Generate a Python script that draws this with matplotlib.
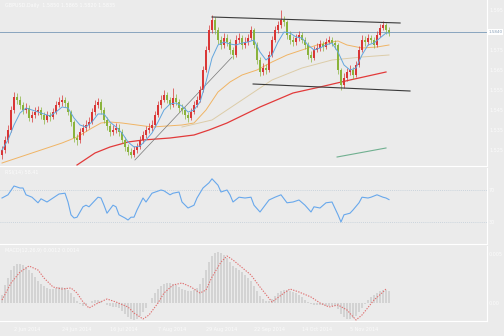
import matplotlib
matplotlib.use("Agg")
import matplotlib.pyplot as plt

# daily candles, open = previous close
first_open = 1.5225
closes = [1.5250, 1.5300, 1.5350, 1.5450, 1.5515, 1.5500, 1.5475, 1.5450, 1.5460, 1.5410,
          1.5425, 1.5440, 1.5450, 1.5425, 1.5400, 1.5425, 1.5415, 1.5440, 1.5475, 1.5490,
          1.5500, 1.5485, 1.5440, 1.5390, 1.5310, 1.5300, 1.5340, 1.5360, 1.5375, 1.5390,
          1.5440, 1.5475, 1.5490, 1.5450, 1.5400, 1.5370, 1.5340, 1.5350, 1.5360, 1.5340,
          1.5300, 1.5265, 1.5240, 1.5225, 1.5250, 1.5265, 1.5300, 1.5325, 1.5350, 1.5360,
          1.5375, 1.5425, 1.5475, 1.5500, 1.5525, 1.5500, 1.5475, 1.5510, 1.5490, 1.5460,
          1.5450, 1.5425, 1.5410, 1.5440, 1.5475, 1.5500, 1.5550, 1.5650, 1.5750, 1.5850,
          1.5900, 1.5850, 1.5800, 1.5775, 1.5810, 1.5790, 1.5750, 1.5725, 1.5800, 1.5810,
          1.5775, 1.5790, 1.5810, 1.5850, 1.5775, 1.5700, 1.5640, 1.5660, 1.5650, 1.5725,
          1.5800, 1.5850, 1.5875, 1.5900, 1.5890, 1.5825, 1.5800, 1.5790, 1.5810, 1.5825,
          1.5800, 1.5775, 1.5725, 1.5710, 1.5750, 1.5760, 1.5780, 1.5765, 1.5790, 1.5800,
          1.5785, 1.5775, 1.5650, 1.5575, 1.5610, 1.5640, 1.5650, 1.5625, 1.5675, 1.5750,
          1.5800, 1.5790, 1.5810, 1.5800, 1.5775, 1.5825, 1.5860, 1.5875, 1.5850, 1.5835]
highs = [1.5270, 1.5320, 1.5375, 1.5470, 1.5540, 1.5535, 1.5520, 1.5490, 1.5485, 1.5475,
         1.5445, 1.5465, 1.5470, 1.5465, 1.5440, 1.5445, 1.5440, 1.5460, 1.5495, 1.5515,
         1.5525, 1.5515, 1.5495, 1.5450, 1.5400, 1.5330, 1.5360, 1.5380, 1.5400, 1.5415,
         1.5460, 1.5500, 1.5510, 1.5505, 1.5465, 1.5415, 1.5385, 1.5375, 1.5385, 1.5380,
         1.5355, 1.5315, 1.5280, 1.5260, 1.5270, 1.5285, 1.5320, 1.5345, 1.5370, 1.5385,
         1.5400, 1.5445, 1.5495, 1.5525, 1.5550, 1.5540, 1.5515, 1.5560, 1.5530, 1.5505,
         1.5480, 1.5465, 1.5440, 1.5460, 1.5495, 1.5520, 1.5570, 1.5670, 1.5770, 1.5875,
         1.5925, 1.5915, 1.5865, 1.5820, 1.5835, 1.5830, 1.5805, 1.5765, 1.5825, 1.5835,
         1.5825, 1.5815, 1.5830, 1.5870, 1.5860, 1.5790, 1.5715, 1.5685, 1.5680, 1.5745,
         1.5820, 1.5870, 1.5895, 1.5950, 1.5920, 1.5900, 1.5845, 1.5820, 1.5830, 1.5845,
         1.5840, 1.5815, 1.5790, 1.5745, 1.5770, 1.5785, 1.5800, 1.5795, 1.5810, 1.5820,
         1.5815, 1.5800, 1.5785, 1.5660, 1.5635, 1.5660, 1.5675, 1.5665, 1.5695, 1.5770,
         1.5825, 1.5820, 1.5830, 1.5825, 1.5815, 1.5845, 1.5880, 1.5895, 1.5885, 1.5865]
lows = [1.5205, 1.5235, 1.5285, 1.5340, 1.5435, 1.5480, 1.5455, 1.5430, 1.5435, 1.5395,
        1.5390, 1.5410, 1.5425, 1.5405, 1.5380, 1.5390, 1.5395, 1.5405, 1.5430, 1.5465,
        1.5470, 1.5465, 1.5425, 1.5370, 1.5290, 1.5275, 1.5285, 1.5325, 1.5345, 1.5360,
        1.5380, 1.5425, 1.5460, 1.5430, 1.5385, 1.5350, 1.5320, 1.5325, 1.5335, 1.5320,
        1.5285, 1.5245, 1.5225, 1.5210, 1.5215, 1.5235, 1.5255, 1.5285, 1.5310, 1.5335,
        1.5345, 1.5365, 1.5415, 1.5460, 1.5490, 1.5485, 1.5455, 1.5465, 1.5475, 1.5440,
        1.5430, 1.5405, 1.5390, 1.5400, 1.5430, 1.5465, 1.5490, 1.5540, 1.5640, 1.5740,
        1.5835, 1.5830, 1.5780, 1.5755, 1.5760, 1.5770, 1.5730, 1.5705, 1.5715, 1.5785,
        1.5755, 1.5760, 1.5775, 1.5800, 1.5760, 1.5680, 1.5620, 1.5625, 1.5630, 1.5640,
        1.5715, 1.5790, 1.5835, 1.5860, 1.5870, 1.5805, 1.5780, 1.5770, 1.5775, 1.5795,
        1.5785, 1.5755, 1.5705, 1.5690, 1.5700, 1.5740, 1.5745, 1.5745, 1.5755, 1.5780,
        1.5770, 1.5755, 1.5630, 1.5550, 1.5560, 1.5595, 1.5625, 1.5605, 1.5615, 1.5665,
        1.5740, 1.5770, 1.5775, 1.5785, 1.5760, 1.5765, 1.5815, 1.5850, 1.5830, 1.5820]
opens = [first_open] + closes[:-1]

# moving averages (candle index, price)
blue_idx = [0, 2, 4, 6, 8, 10, 12, 14, 16, 18, 20, 22, 24, 26, 28, 30, 32, 34, 36, 38,
            40, 42, 44, 46, 48, 50, 52, 54, 56, 58, 60, 62, 64, 66, 68, 70, 72, 74, 76, 78,
            80, 82, 84, 86, 88, 90, 92, 94, 96, 98, 100, 102, 104, 106, 108, 110, 112, 114,
            116, 118, 120, 122, 124, 126, 128, 129]
blue_ma = [1.5250, 1.5300, 1.5375, 1.5435, 1.5460, 1.5450, 1.5440, 1.5430, 1.5420, 1.5440,
           1.5465, 1.5460, 1.5410, 1.5375, 1.5365, 1.5390, 1.5430, 1.5430, 1.5390, 1.5365,
           1.5335, 1.5290, 1.5265, 1.5270, 1.5300, 1.5335, 1.5390, 1.5450, 1.5480, 1.5485,
           1.5470, 1.5440, 1.5450, 1.5490, 1.5590, 1.5710, 1.5775, 1.5790, 1.5780, 1.5775,
           1.5785, 1.5790, 1.5800, 1.5740, 1.5700, 1.5725, 1.5790, 1.5840, 1.5835, 1.5815,
           1.5810, 1.5775, 1.5750, 1.5760, 1.5775, 1.5785, 1.5740, 1.5675, 1.5650, 1.5660,
           1.5725, 1.5775, 1.5785, 1.5810, 1.5835, 1.5835]
orange_idx = [0, 5, 10, 15, 20, 25, 30, 33, 36, 40, 45, 50, 55, 60, 64, 68, 72, 76, 80,
              85, 90, 95, 100, 105, 110, 112, 115, 120, 125, 129]
orange_ma = [1.5185, 1.5210, 1.5235, 1.5260, 1.5285, 1.5315, 1.5360, 1.5385, 1.5390, 1.5385,
             1.5375, 1.5365, 1.5370, 1.5375, 1.5385, 1.5450, 1.5540, 1.5590, 1.5625, 1.5650,
             1.5690, 1.5725, 1.5750, 1.5775, 1.5790, 1.5795, 1.5775, 1.5760, 1.5765, 1.5775]
tan_idx = [60, 70, 80, 90, 100, 110, 120, 129]
tan_ma = [1.5365, 1.5400, 1.5500, 1.5600, 1.5660, 1.5700, 1.5715, 1.5725]
red_idx = [25, 26, 31, 36, 42, 47, 56, 64, 69, 75, 86, 97, 106, 116, 128]
red_ma = [1.5175, 1.5185, 1.5235, 1.5265, 1.5290, 1.5300, 1.5310, 1.5325, 1.5350, 1.5385,
          1.5465, 1.5535, 1.5565, 1.5600, 1.5640]

# drawn objects (candle index, price)
channel_top = ([70, 132.7], [1.5915, 1.5885])
channel_bottom = ([83.7, 136], [1.5580, 1.5545])
trend_up = ([44.3, 76.7], [1.5200, 1.5715])
teal_line = ([111.7, 128], [1.5215, 1.5260])
last_price = 1.5840

# RSI(14)
rsi_idx = [0, 2, 4, 6, 7, 8, 10, 12, 13, 15, 17, 19, 21, 22, 23, 24, 25, 27, 28, 29,
           32, 33, 34, 35, 37, 38, 39, 41, 42, 43, 44, 45, 47, 48, 50, 53, 54, 56, 57, 59,
           60, 62, 64, 65, 67, 69, 70, 72, 73, 75, 76, 77, 79, 81, 83, 84, 86, 87, 89, 91,
           93, 95, 97, 99, 101, 103, 104, 106, 108, 110, 112, 113, 114, 116, 117, 119, 120,
           122, 123, 125, 127, 128, 129]
rsi = [60, 64, 75, 72.5, 72.5, 64, 61, 54, 59, 55, 60, 65, 66, 55, 39, 35, 36, 49, 51, 49,
       61, 60, 51, 41, 51, 49, 39, 35, 32.5, 36, 36, 45, 60, 55, 66, 70, 69, 64, 66, 67.5,
       55, 47.5, 51, 60, 72.5, 79, 84, 76, 67.5, 70, 64, 55, 61, 60, 61, 51, 42.5, 47.5, 57.5, 61,
       64, 54, 55, 57.5, 51, 42.5, 49, 47.5, 54, 55, 39, 30, 39, 41, 45, 54, 61,
       60, 61, 64, 61, 60, 58]

# MACD: histogram (main) per candle and dotted signal
macd_hist = [0.0008, 0.0018, 0.0025, 0.0033, 0.0037, 0.0039, 0.0039, 0.0038, 0.0036, 0.0033,
             0.0030, 0.0026, 0.0022, 0.0019, 0.0017, 0.0015, 0.0014, 0.0014, 0.0015, 0.0016,
             0.0016, 0.0015, 0.0013, 0.0010, 0.0006, 0.0002, -0.0001, -0.0003, -0.0002, 0.0000,
             0.0002, 0.0003, 0.0003, 0.0002, 0.0000, -0.0002, -0.0003, -0.0004, -0.0004, -0.0005,
             -0.0008, -0.0011, -0.0014, -0.0016, -0.0017, -0.0016, -0.0013, -0.0009, -0.0005, 0.0000,
             0.0005, 0.0010, 0.0014, 0.0017, 0.0019, 0.0020, 0.0020, 0.0019, 0.0018, 0.0016,
             0.0014, 0.0013, 0.0012, 0.0012, 0.0013, 0.0015, 0.0019, 0.0025, 0.0033, 0.0041,
             0.0047, 0.0050, 0.0051, 0.0050, 0.0048, 0.0045, 0.0041, 0.0037, 0.0035, 0.0033,
             0.0031, 0.0028, 0.0025, 0.0022, 0.0017, 0.0012, 0.0007, 0.0004, 0.0002, 0.0002,
             0.0004, 0.0007, 0.0010, 0.0012, 0.0013, 0.0013, 0.0012, 0.0011, 0.0010, 0.0008,
             0.0006, 0.0003, 0.0001, -0.0001, -0.0002, -0.0002, -0.0002, -0.0002, -0.0003, -0.0003,
             -0.0003, -0.0003, -0.0006, -0.0011, -0.0014, -0.0016, -0.0016, -0.0015, -0.0013, -0.0009,
             -0.0005, -0.0001, 0.0003, 0.0006, 0.0008, 0.0010, 0.0012, 0.0013, 0.0013, 0.0012]
signal_idx = [0, 3, 6, 9, 12, 14, 17, 20, 23, 25, 27, 29, 32, 35, 38, 42, 44, 47, 49, 52,
              54, 57, 60, 63, 66, 68, 70, 73, 75, 77, 79, 83, 86, 90, 94, 96, 99, 103, 106,
              109, 112, 115, 118, 120, 124, 127, 128]
signal = [0.0003, 0.0020, 0.0031, 0.0037, 0.0033, 0.0025, 0.0016, 0.0014, 0.0015, 0.0010,
          0.0001, -0.0005, 0.0000, 0.0004, 0.0001, -0.0004, -0.0010, -0.0016, -0.0012, 0.0000,
          0.0010, 0.0018, 0.0020, 0.0016, 0.0010, 0.0013, 0.0026, 0.0041, 0.0047, 0.0043,
          0.0038, 0.0028, 0.0016, 0.0001, 0.0010, 0.0014, 0.0011, 0.0006, 0.0000, -0.0004,
          -0.0002, -0.0007, -0.0017, -0.0012, 0.0003, 0.0011, 0.0014]

date_idx = [4, 20, 36, 52, 68, 84, 100, 116]
date_labels = ["2 Jun 2014", "24 Jun 2014", "16 Jul 2014", "7 Aug 2014",
               "29 Aug 2014", "22 Sep 2014", "14 Oct 2014", "5 Nov 2014"]

bg = "#ebebeb"
up_col = "#d93636"
down_col = "#8ab33c"
faint = "#fbfbfb"

fig = plt.figure(figsize=(5.04, 3.36), dpi=100, facecolor=bg)
w = 487 / 504
ax = fig.add_axes([0, 1 - 166 / 336, w, 166 / 336])
ax_rsi = fig.add_axes([0, 1 - 244 / 336, w, 76 / 336])
ax_macd = fig.add_axes([0, 1 - 321 / 336, w, 75 / 336])

xmin, xmax = -0.67, 161.67
for a in (ax, ax_rsi, ax_macd):
    a.set_facecolor(bg)
    a.set_xlim(xmin, xmax)
    a.yaxis.tick_right()
    a.tick_params(axis="y", length=0, labelsize=3.5, labelcolor=faint, pad=1.5)
    a.tick_params(axis="x", length=0, labelbottom=False)
    for s in a.spines.values():
        s.set_color("white")
        s.set_linewidth(0.8)
    a.spines["left"].set_visible(False)
    a.spines["top"].set_visible(False)

# main panel
ax.set_ylim(1.517, 1.600)
ax.axhline(last_price, color="#88a4be", lw=0.7, zorder=1)
idx = list(range(len(closes)))
for i in idx:
    col = up_col if closes[i] >= opens[i] else down_col
    ax.vlines(i, lows[i], highs[i], color=col, lw=0.5, zorder=3)
    lo_b = min(opens[i], closes[i])
    h = max(abs(closes[i] - opens[i]), 0.00015)
    ax.bar(i, h, bottom=lo_b, width=0.6, color=col, lw=0, zorder=3)
ax.plot(red_idx, red_ma, color="#e23a3a", lw=0.9, zorder=2)
ax.plot(orange_idx, orange_ma, color="#f0b464", lw=0.7, zorder=2)
ax.plot(tan_idx, tan_ma, color="#dccca8", lw=0.7, zorder=2)
ax.plot(blue_idx, blue_ma, color="#62a6de", lw=0.7, zorder=4)
ax.plot(*trend_up, color="#777777", lw=0.5, zorder=2)
ax.plot(*channel_top, color="#3a3a3a", lw=0.8, zorder=5)
ax.plot(*channel_bottom, color="#3a3a3a", lw=0.8, zorder=5)
ax.plot(*teal_line, color="#70b090", lw=0.8, zorder=2)
ax.set_yticks([1.525, 1.535, 1.545, 1.555, 1.565, 1.575, 1.595])
ax.text(1.003, last_price, "1.5840", transform=ax.get_yaxis_transform(), fontsize=3,
        color="#8aa0b8", va="center", ha="left",
        bbox=dict(boxstyle="square,pad=0.15", fc="white", ec="none"))
ax.text(1, 1.5985, "GBPUSD,Daily  1.5850 1.5865 1.5820 1.5835", fontsize=3.5,
        color=faint, va="top")

# RSI panel
ax_rsi.set_ylim(2.5, 97.5)
ax_rsi.axhline(70, color="#c0ccd8", lw=0.6, ls=(0, (1, 1.5)))
ax_rsi.axhline(30, color="#c0ccd8", lw=0.6, ls=(0, (1, 1.5)))
ax_rsi.plot(rsi_idx, rsi, color="#68a8ec", lw=0.8)
ax_rsi.set_yticks([30, 70])
ax_rsi.text(1, 95, "RSI(14) 58.41", fontsize=3.5, color=faint, va="top")

# MACD panel
ax_macd.set_ylim(-0.0018, 0.0057)
ax_macd.bar(idx, macd_hist, width=0.55, color="#d3d3d3", lw=0)
ax_macd.plot(signal_idx, signal, color="#e07070", lw=0.8, ls=(0, (1.2, 1.2)))
ax_macd.set_yticks([0, 0.0049])
ax_macd.set_yticklabels(["0.00", "0.005"])
ax_macd.text(1, 0.0055, "MACD(12,26,9) 0.0012 0.0014", fontsize=3.5, color=faint, va="top")

for i, lab in zip(date_idx, date_labels):
    fig.text((i - xmin) / (xmax - xmin) * w, 4 / 336, lab, fontsize=3.5, color=faint,
             ha="left", va="bottom")

fig.savefig("out.png", dpi=100, facecolor=bg)
